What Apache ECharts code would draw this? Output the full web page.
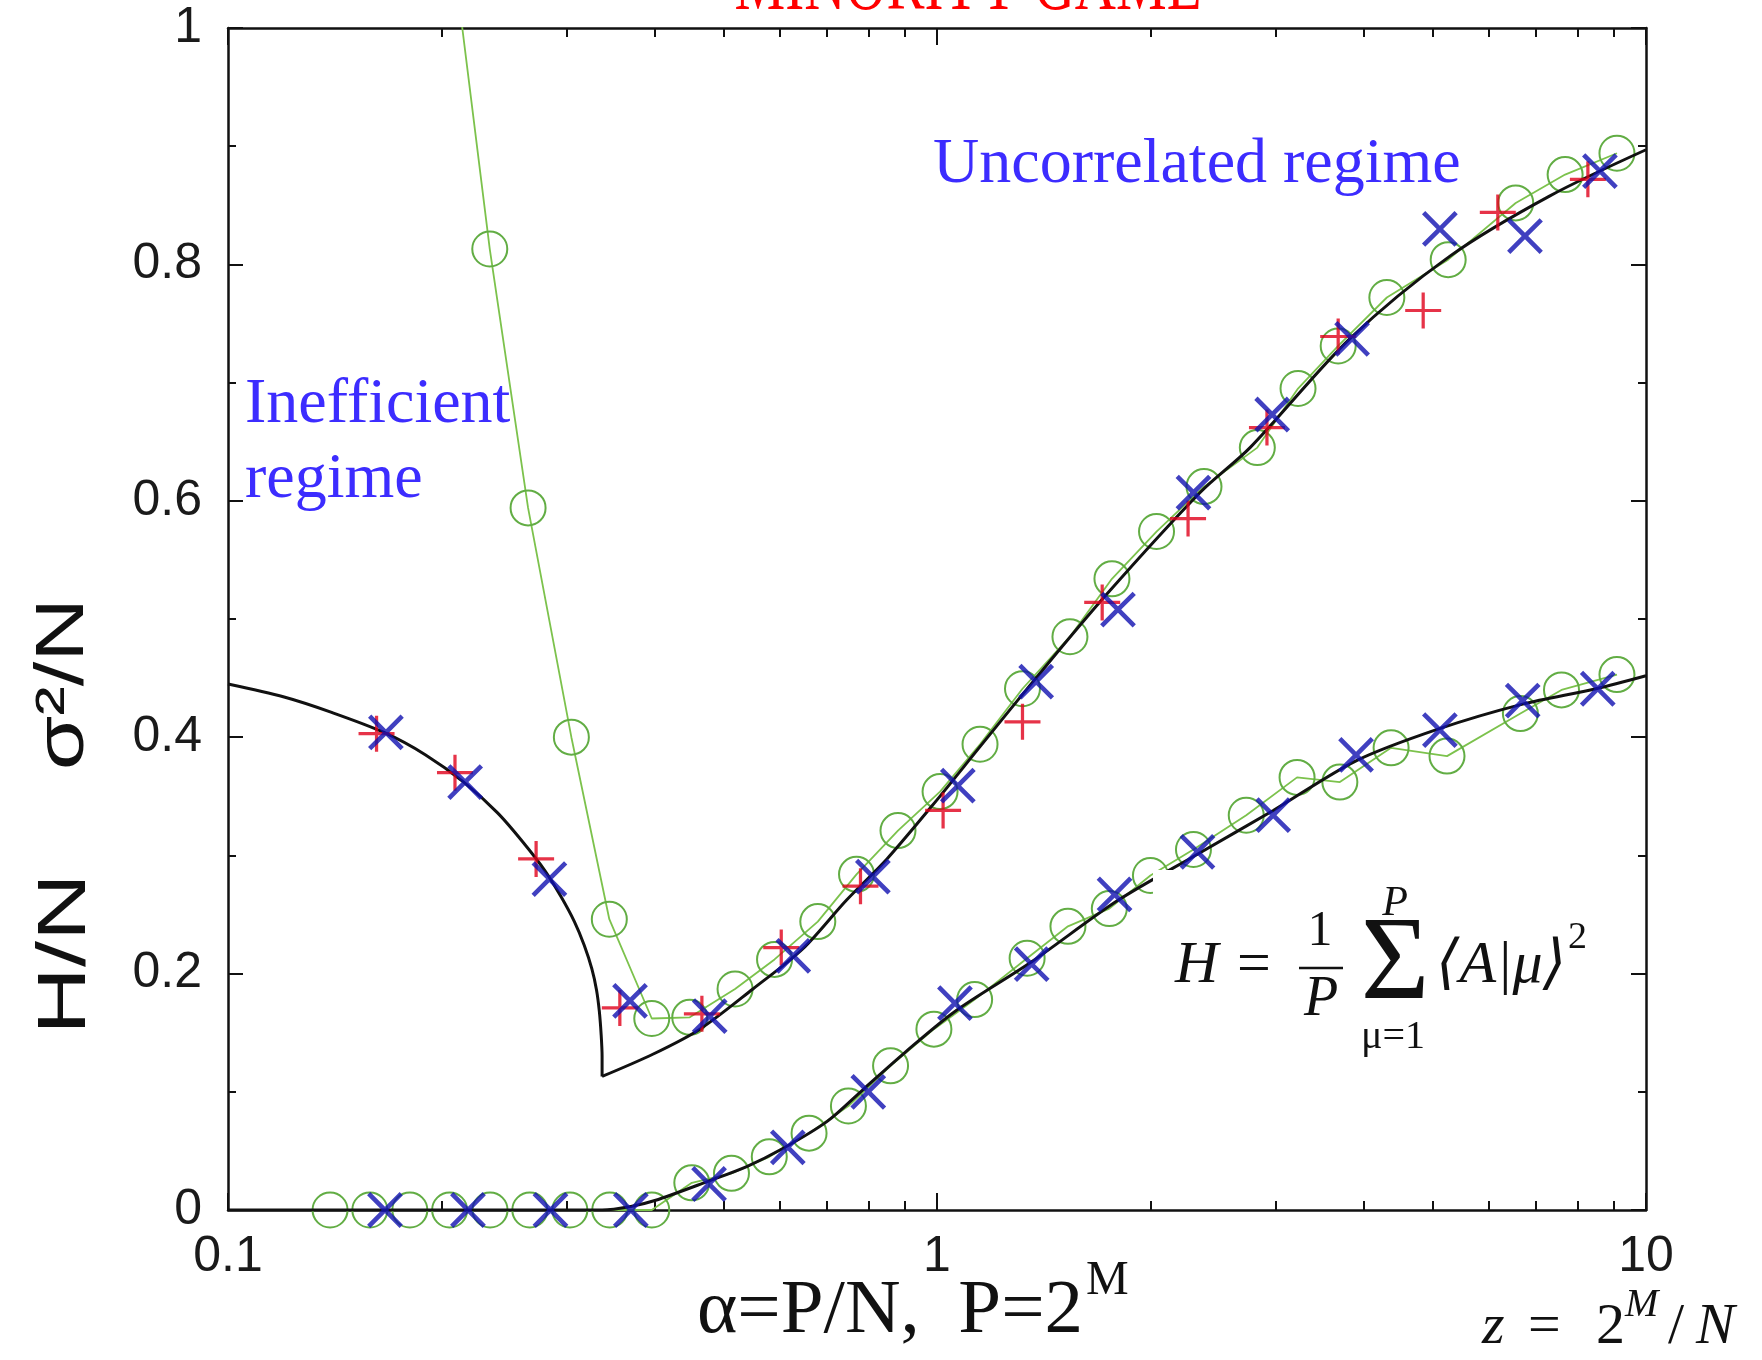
<!DOCTYPE html>
<html><head><meta charset="utf-8">
<script src="https://cdn.jsdelivr.net/npm/echarts@6/dist/echarts.min.js"></script>
<style>html,body{margin:0;padding:0;background:#fff;}#c{width:1762px;height:1360px;}</style>
</head><body><div id="c"></div>
<script>
// ---- axis ticks / labels ----
const xMajorTicks = [0.1, 1, 10];
const xMinorTicks = [0.2,0.3,0.4,0.5,0.6,0.7,0.8,0.9,2,3,4,5,6,7,8,9];
const xTickLabels = [0.1, 1, 10];
const yMajorTicks = [0, 0.2, 0.4, 0.6, 0.8, 1];
const yMinorTicks = [0.1, 0.3, 0.5, 0.7, 0.9];

// ---- theory curves [alpha, value] ----
const theorySigmaLow = [[0.1,0.445],[0.12,0.434],[0.14,0.421],[0.166,0.404],[0.19,0.385],[0.215,0.362],[0.24,0.336],[0.26,0.312],[0.28,0.287],[0.295,0.265],[0.308,0.244],[0.318,0.224],[0.326,0.204],[0.331,0.186],[0.334,0.168],[0.336,0.148],[0.337,0.13],[0.337,0.113]];
const theorySigmaHigh = [[0.337,0.113],[0.398,0.132],[0.463,0.153],[0.55,0.187],[0.647,0.221],[0.745,0.262],[0.85,0.297],[1.0,0.347],[1.15,0.392],[1.366,0.447],[1.73,0.52],[2.35,0.607],[2.764,0.645],[3.82,0.737],[5.29,0.807],[7.32,0.858],[10,0.897]];
const theoryH = [[0.1,0],[0.337,0],[0.37,0.003],[0.4,0.008],[0.474,0.024],[0.54,0.037],[0.606,0.052],[0.7,0.075],[0.79,0.103],[0.9,0.133],[1.06,0.168],[1.36,0.21],[1.8,0.262],[2.33,0.301],[2.98,0.338],[3.9,0.38],[5.1,0.407],[6.7,0.428],[8.5,0.441],[10,0.452]];

// ---- simulations ----
const simSigmaPlus = [[0.162,0.403],[0.209,0.370],[0.272,0.297],[0.357,0.171],[0.466,0.166],[0.603,0.222],[0.78,0.274],[1.02,0.338],[1.32,0.413],[1.71,0.514],[2.26,0.585],[2.92,0.662],[3.68,0.739],[4.85,0.761],[6.18,0.844],[8.28,0.872]];
const simSigmaCross = [[0.167,0.404],[0.216,0.362],[0.284,0.280],[0.369,0.177],[0.478,0.164],[0.627,0.215],[0.812,0.282],[1.07,0.359],[1.38,0.447],[1.80,0.508],[2.30,0.607],[2.97,0.673],[3.85,0.737],[5.12,0.830],[6.75,0.824],[8.61,0.879]];
const simHCross = [[0.1665,0],[0.218,0],[0.285,0],[0.37,0],[0.477,0.022],[0.616,0.053],[0.80,0.100],[1.06,0.175],[1.36,0.208],[1.78,0.267],[2.33,0.303],[2.98,0.334],[3.9,0.385],[5.12,0.406],[6.7,0.431],[8.55,0.441]];
const simSigmaCircle = [[0.206,1.08],[0.234,0.813],[0.265,0.594],[0.305,0.400],[0.345,0.246],[0.396,0.162],[0.448,0.163],[0.519,0.187],[0.59,0.212],[0.679,0.244],[0.77,0.284],[0.881,0.321],[1.01,0.354],[1.15,0.394],[1.32,0.441],[1.54,0.485],[1.765,0.534],[2.04,0.574],[2.38,0.612],[2.83,0.645],[3.23,0.695],[3.68,0.731],[4.31,0.772],[5.26,0.804],[6.55,0.852],[7.69,0.876],[9.1,0.894]];
const simHCircle = [[0.1393,0],[0.1585,0],[0.1805,0],[0.2054,0],[0.2342,0],[0.2665,0],[0.3035,0],[0.3455,0],[0.396,0],[0.451,0.023],[0.513,0.031],[0.58,0.045],[0.66,0.065],[0.75,0.088],[0.86,0.122],[0.99,0.153],[1.13,0.178],[1.34,0.213],[1.53,0.240],[1.75,0.255],[2.0,0.283],[2.3,0.305],[2.73,0.334],[3.22,0.366],[3.7,0.362],[4.37,0.391],[5.24,0.384],[6.65,0.420],[7.6,0.440],[9.1,0.453]];

const plusPath = 'path://M18.2,0H21.8V18.2H40V21.8H21.8V40H18.2V21.8H0V18.2H18.2Z';
const crossPath = 'path://M18,0H22V18H40V22H22V40H18V22H0V18H18Z';

const AX = '#111';
function xAx(pos, ticks, len, showLine, showLabel) {
  return {type:'log', logBase:10, min:0.1, max:10, position:pos, gridIndex:0,
    axisLine:{show:showLine, onZero:false, lineStyle:{color:AX, width:2.5}},
    axisTick:{show:true, inside:true, length:len, customValues:ticks, lineStyle:{color:AX, width:2}},
    axisLabel:{show:showLabel, customValues:xTickLabels, showMinLabel:true, showMaxLabel:true, margin:22,
      fontFamily:'Liberation Sans', fontSize:50, color:'#1a1a1a',
      formatter: v => (v < 0.5 ? '0.1' : String(Math.round(v)))},
    splitLine:{show:false}, minorTick:{show:false}, minorSplitLine:{show:false}};
}
function yAx(pos, ticks, len, showLine, showLabel) {
  return {type:'value', min:0, max:1, interval:0.2, position:pos, gridIndex:0,
    axisLine:{show:showLine, onZero:false, lineStyle:{color:AX, width:2.5}},
    axisTick:{show:true, inside:true, length:len, customValues:ticks, lineStyle:{color:AX, width:2}},
    axisLabel:{show:showLabel, customValues:yMajorTicks, margin:26, fontFamily:'Liberation Sans', fontSize:50, color:'#1a1a1a',
      formatter: v => (v === 0 ? '0' : (Math.abs(v-1) < 1e-9 ? '1' : v.toFixed(1)))},
    splitLine:{show:false}, minorTick:{show:false}};
}

const blue = '#3c2cff';
function txt(text, x, y, font, fill, align, extra) {
  return Object.assign({type:'text', x:x, y:y, z:110,
    style:{text:text, font:font, fill:fill, align:align||'left', verticalAlign:'middle', textAlign:align||'left', textVerticalAlign:'middle'}}, extra||{});
}
const serif = "'Liberation Serif', 'DejaVu Serif', serif";
const sans = "'Liberation Sans', Arial, sans-serif";

const graphics = [
  txt('MINORITY GAME', 968, -12, '60px ' + serif, '#ff0000', 'center', {scaleY:1.35, scaleX:0.95}),
  txt('Inefficient', 245, 405, '64px ' + serif, blue),
  txt('regime', 245, 480, '64px ' + serif, blue),
  txt('Uncorrelated regime', 933, 165, '64px ' + serif, blue),
  // axis titles
  txt('σ²/N', 64, 684, '68px ' + sans, '#111', 'center', {rotation:Math.PI/2, scaleX:1.3}),
  txt('H/N', 66, 954, '68px ' + sans, '#111', 'center', {rotation:Math.PI/2, scaleX:1.38}),
  txt('α=P/N,  P=2', 697, 1312, '77px ' + serif, '#111'),
  txt('M', 1086, 1281, '48px ' + serif, '#111'),
  txt('z', 1482, 1328, 'italic 58px ' + serif, '#111'),
  txt('=', 1528, 1328, '58px ' + serif, '#111'),
  txt('2', 1596, 1328, '58px ' + serif, '#111'),
  txt('M', 1625, 1305, 'italic 40px ' + serif, '#111'),
  txt('/', 1668, 1328, '58px ' + serif, '#111'),
  txt('N', 1696, 1328, 'italic 58px ' + serif, '#111'),
  // formula box
  {type:'rect', z:100, shape:{x:1153, y:870, width:457, height:195}, style:{fill:'#fff'}},
  txt('H', 1175, 966, 'italic 60px ' + serif, '#111'),
  txt('=', 1237, 966, '60px ' + serif, '#111'),
  txt('1', 1320, 932, '50px ' + serif, '#111', 'center'),
  {type:'line', z:110, shape:{x1:1299, y1:968, x2:1343, y2:968}, style:{stroke:'#111', lineWidth:2.5}},
  txt('P', 1321, 1000, 'italic 56px ' + serif, '#111', 'center'),
  txt('Σ', 1395, 967, '118px ' + serif, '#111', 'center'),
  txt('P', 1395, 904, 'italic 42px ' + serif, '#111', 'center'),
  txt('μ=1', 1393, 1037, '40px ' + serif, '#111', 'center'),
  txt('⟨A|μ⟩', 1436, 966, 'italic 60px ' + serif, '#111'),
  txt('2', 1568, 938, '38px ' + serif, '#111')
];

const chart = echarts.init(document.getElementById('c'), null, {renderer:'canvas'});
chart.setOption({
  animation:false,
  backgroundColor:'#fff',
  grid:{left:228, right:116, top:28, bottom:150, containLabel:false},
  xAxis:[xAx('bottom', xMajorTicks, 17, true, true), xAx('bottom', xMinorTicks, 9, false, false),
         xAx('top', xMajorTicks, 17, true, false), xAx('top', xMinorTicks, 9, false, false)],
  yAxis:[yAx('left', yMajorTicks, 15, true, true), yAx('left', yMinorTicks, 8, false, false),
         yAx('right', yMajorTicks, 15, true, false), yAx('right', yMinorTicks, 8, false, false)],
  series:[
    {type:'line', data:simSigmaCircle, symbol:'circle', symbolSize:35, showSymbol:true, clip:true, silent:true, z:2,
      lineStyle:{color:'#7cc24c', width:1.8}, itemStyle:{color:'rgba(255,255,255,0)', borderColor:'#62ad44', borderWidth:2}},
    {type:'line', data:simHCircle, symbol:'circle', symbolSize:35, showSymbol:true, clip:true, silent:true, z:2,
      lineStyle:{color:'#7cc24c', width:1.8}, itemStyle:{color:'rgba(255,255,255,0)', borderColor:'#62ad44', borderWidth:2}},
    {type:'line', data:theorySigmaLow, symbol:'none', smooth:0.3, clip:true, silent:true, z:3, lineStyle:{color:'#111', width:3}},
    {type:'line', data:theorySigmaHigh, symbol:'none', smooth:0.3, clip:true, silent:true, z:3, lineStyle:{color:'#111', width:3}},
    {type:'line', data:theoryH, symbol:'none', smooth:0.3, clip:true, silent:true, z:3, lineStyle:{color:'#111', width:3}},
    {type:'scatter', data:simSigmaPlus, symbol:plusPath, symbolSize:36, silent:true, z:4, itemStyle:{color:'#e0001a'}},
    {type:'scatter', data:simSigmaCross, symbol:crossPath, symbolSize:46, symbolRotate:45, silent:true, z:5, itemStyle:{color:'#1010b0'}},
    {type:'scatter', data:simHCross, symbol:crossPath, symbolSize:46, symbolRotate:45, silent:true, z:5, itemStyle:{color:'#1010b0'}}
  ],
  graphic:{elements:graphics}
});
</script></body></html>
